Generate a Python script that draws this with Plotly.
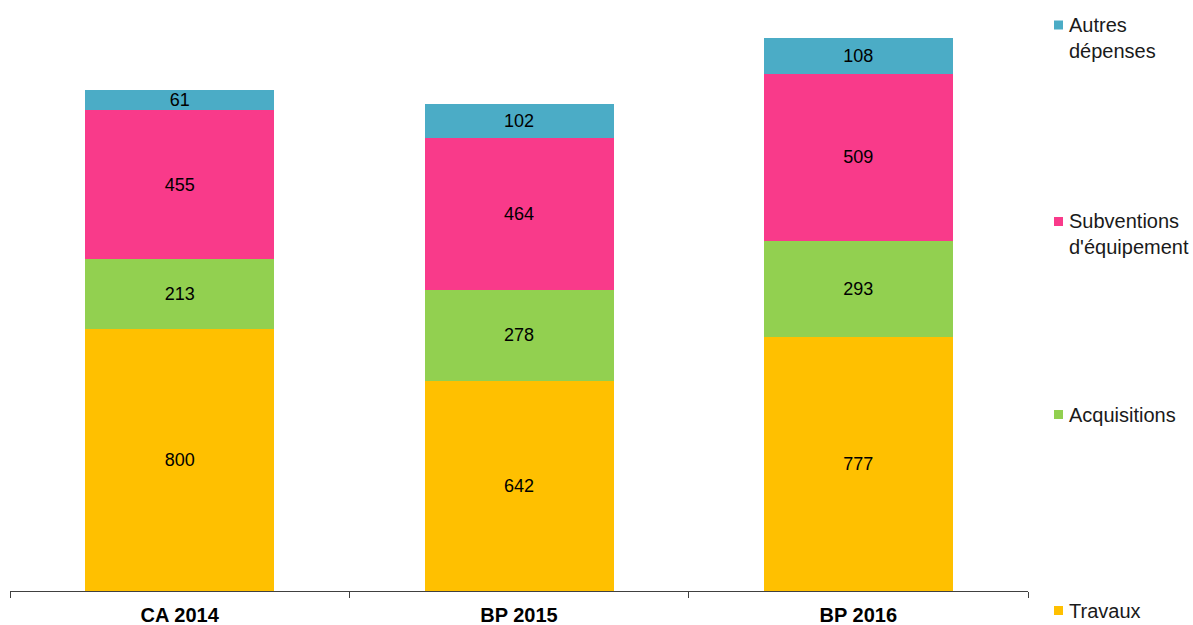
import plotly.graph_objects as go

categories = ["CA 2014", "BP 2015", "BP 2016"]
travaux = [800, 642, 777]
acquisitions = [213, 278, 293]
subventions = [455, 464, 509]
autres = [61, 102, 108]

series_names = ["Travaux", "Acquisitions", "Subventions<br>d'équipement", "Autres<br>dépenses"]
series_values = [travaux, acquisitions, subventions, autres]
series_colors = ["#FFC000", "#92D050", "#F93A8A", "#4BACC6"]

# legend placement (page pixel y of the first text line centre), layout only
legend_px_y = [610.5, 414.5, 221.5, 25]

W, H = 1193, 625
ML, MR, MT, MB = 10, 165, 10, 34
PW, PH = W - ML - MR, H - MT - MB

def px_x(px):
    return (px - ML) / PW

def px_y(py):
    return (H - MB - py) / PH

fig = go.Figure()
for name, vals, col in zip(series_names, series_values, series_colors):
    fig.add_trace(go.Bar(
        x=categories, y=vals, name=name.replace("<br>", " "),
        marker=dict(color=col, line=dict(width=0)),
        text=[str(v) for v in vals], textposition="inside",
        insidetextanchor="middle", textangle=0, constraintext="none",
        textfont=dict(color="black", size=18, family="Liberation Sans, Arial"),
        width=0.557,
    ))

annotations = []
shapes = []
for name, col, py in zip(series_names, series_colors, legend_px_y):
    annotations.append(dict(
        xref="paper", yref="paper", x=px_x(1067), y=px_y(py - 13),
        xanchor="left", yanchor="top", align="left", showarrow=False,
        text=name, font=dict(size=20, color="#1a1a1a", family="Liberation Sans, Arial"),
    ))
    shapes.append(dict(
        type="rect", xref="paper", yref="paper",
        x0=px_x(1054), x1=px_x(1063), y0=px_y(py + 4.5), y1=px_y(py - 4.5),
        fillcolor=col, line=dict(width=0),
    ))

fig.update_layout(
    barmode="stack",
    width=W, height=H,
    margin=dict(l=ML, r=MR, t=MT, b=MB, autoexpand=False),
    plot_bgcolor="white", paper_bgcolor="white",
    font=dict(family="Liberation Sans, Arial", size=18, color="black"),
    showlegend=False,
    annotations=annotations,
    shapes=shapes,
)
fig.update_xaxes(
    showline=True, linecolor="#404040", linewidth=1,
    ticks="outside", tickson="boundaries", ticklen=6, tickcolor="#404040",
    tickfont=dict(size=20, family="Liberation Sans, Arial", color="black"),
    tickvals=categories, ticktext=[f"<b>{c}</b>" for c in categories],
    ticklabelstandoff=6,
    automargin=False,
)
fig.update_yaxes(range=[0, 1774], visible=False, showgrid=False, automargin=False)

fig.write_html(
    "out.html",
    config={"displayModeBar": False},
    post_script="document.body.style.margin='0';document.body.style.overflow='hidden';",
)
